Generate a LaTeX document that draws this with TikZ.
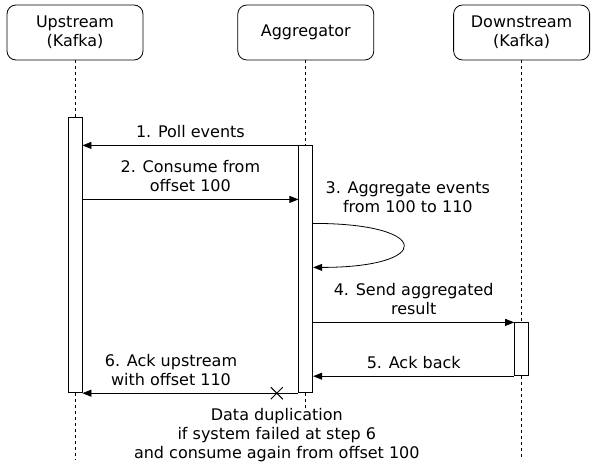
\documentclass[tikz,border=0pt]{standalone}
\usepackage{fontspec}
\setmainfont{DejaVu Sans}
\usetikzlibrary{positioning, arrows.meta, shapes.misc}

\tikzset{
  actor/.style={draw, rounded corners=9pt, minimum width=136pt, minimum height=55pt, align=center},
  actbar/.style={draw, fill=white, minimum width=14pt, inner sep=0pt},
  lifeline/.style={dash pattern=on 3pt off 3pt},
  msg/.style={-{Triangle[length=9pt,width=7pt]}},
  lbl/.style={align=center, inner sep=0pt},
  xmark/.style={draw, cross out, minimum size=11pt, inner sep=0pt, line width=1pt}
}

\begin{document}
\begin{tikzpicture}[x=1pt, y=-1pt, line width=0.8pt, font=\fontsize{16}{19}\selectfont]
\useasboundingbox (0,0) rectangle (593,468);

\node (Up) [actor] at (75,32.5) {Upstream\\(Kafka)};
\node (Agg) [actor, right=94pt of Up] {Aggregator};
\node (Down) [actor, right=79pt of Agg] {Downstream\\(Kafka)};

\node (UpBar) [actbar, minimum height=275pt, below=57pt of Up] {};
\node (AggBar) [actbar, minimum height=247pt, below=85pt of Agg] {};
\node (DownBar) [actbar, minimum height=53pt, below=262pt of Down] {};

\coordinate (End) at (0,460);

\draw[lifeline] (Up) -- (UpBar);
\draw[lifeline] (Agg) -- (AggBar);
\draw[lifeline] (Down) -- (DownBar);
\draw[lifeline] (UpBar.south) -- (UpBar.south |- End);
\draw[lifeline] (AggBar.south) -- (AggBar.south |- End);
\draw[lifeline] (DownBar.south) -- (DownBar.south |- End);

\draw[msg] (AggBar.north west) -- (UpBar.east |- AggBar.north west)
    node[lbl, midway, above=7pt] {1. Poll events};

\draw[msg] ([yshift=-82pt]UpBar.north east) coordinate (M2) -- (AggBar.west |- M2)
    node[lbl, midway, above=7pt] {2. Consume from\\offset 100};

\draw[msg] ([yshift=-78pt]AggBar.north east) .. controls +(120,0) and +(120,0) .. ([yshift=-122pt]AggBar.north east)
    node[lbl, at start, anchor=south west, xshift=12pt, yshift=10pt] {3. Aggregate events\\from 100 to 110};

\draw[msg] (AggBar.east |- DownBar.north west) -- (DownBar.north west)
    node[lbl, midway, above=7pt] {4. Send aggregated\\result};

\draw[msg] (DownBar.south west) -- (AggBar.east |- DownBar.south west)
    node[lbl, midway, above=7pt] {5. Ack back};

\draw[msg] (AggBar.south west) -- (UpBar.south east)
    node[lbl, pos=0.59, above=7pt] {6. Ack upstream\\with offset 110}
    node (Cut) [xmark, pos=0.1] {};

\node (Note) [lbl, fill=white, below=9pt of Cut] {Data duplication\\if system failed at step 6\\and consume again from offset 100};

\end{tikzpicture}
\end{document}
